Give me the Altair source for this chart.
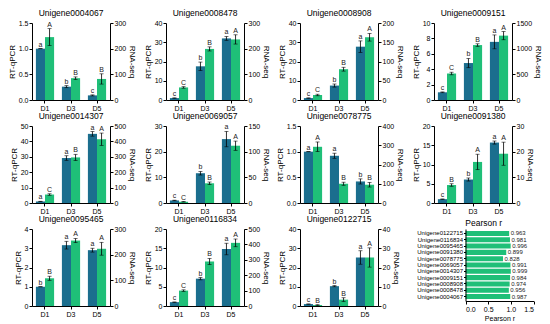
import altair as alt
import pandas as pd

BLUE = "#1b6e8e"
GREEN = "#1fbf78"
FONT = "Liberation Sans"

days = ["D1", "D3", "D5"]
genes = ["Unigene0004067", "Unigene0008478", "Unigene0008908", "Unigene0009151",
         "Unigene0014307", "Unigene0069057", "Unigene0078775", "Unigene0091380",
         "Unigene0095465", "Unigene0116834", "Unigene0122715"]

qpcr_mean = [
    [1.0, 0.26, 0.09],
    [1.0, 17.5, 32.0],
    [1.0, 7.5, 27.7],
    [1.0, 4.8, 7.55],
    [1.0, 29.2, 44.9],
    [1.0, 11.6, 24.9],
    [1.0, 0.92, 0.42],
    [1.0, 6.1, 15.7],
    [1.0, 3.16, 2.9],
    [1.0, 7.1, 14.8],
    [1.0, 10.3, 25.2],
]
qpcr_err = [
    [0.0, 0.02, 0.01],
    [0.1, 2.2, 1.0],
    [0.1, 0.8, 3.0],
    [0.05, 0.6, 0.9],
    [0.1, 1.5, 1.5],
    [0.1, 0.7, 3.0],
    [0.0, 0.05, 0.05],
    [0.05, 0.4, 0.4],
    [0.0, 0.2, 0.1],
    [0.05, 0.3, 1.5],
    [0.05, 0.3, 3.5],
]
rna_mean = [
    [245, 85, 82],
    [49, 199, 236],
    [13, 80, 163],
    [516, 1070, 1254],
    [55, 296, 414],
    [2.4, 38.4, 111.6],
    [292, 100, 95],
    [7.0, 16.0, 19.2],
    [108, 255, 223],
    [100, 289, 410],
    [0.5, 3.3, 25.2],
]
rna_err = [
    [33, 5, 20],
    [3, 8, 18],
    [2, 5, 10],
    [25, 25, 80],
    [5, 20, 40],
    [0.5, 2.5, 9],
    [25, 8, 12],
    [0.5, 3, 4.5],
    [8, 8, 25],
    [5, 20, 25],
    [0.2, 1, 5],
]
qpcr_letters = [["a", "b", "c"], ["c", "b", "a"], ["c", "b", "a"], ["c", "b", "a"],
                ["a", "a", "a"], ["c", "b", "a"], ["a", "a", "b"], ["c", "b", "a"],
                ["b", "a", "a"], ["c", "b", "a"], ["c", "b", "a"]]
rna_letters = [["A", "B", "B"], ["C", "B", "A"], ["C", "B", "A"], ["C", "B", "A"],
               ["C", "B", "A"], ["C", "B", "A"], ["A", "B", "B"], ["B", "A", "A"],
               ["B", "A", "A"], ["C", "B", "A"], ["B", "B", "A"]]
left_ticks = [[0, 0.5, 1, 1.5], [0, 10, 20, 30, 40], [0, 10, 20, 30, 40], [0, 2, 4, 6, 8, 10],
              [0, 10, 20, 30, 40, 50], [0, 10, 20, 30], [0, 0.5, 1, 1.5], [0, 5, 10, 15, 20],
              [0, 1, 2, 3, 4], [0, 5, 10, 15, 20], [0, 10, 20, 30, 40]]
right_ticks = [[0, 100, 200, 300], [0, 100, 200, 300], [0, 50, 100, 150, 200], [0, 500, 1000, 1500],
               [0, 100, 200, 300, 400, 500], [0, 50, 100, 150], [0, 100, 200, 300, 400], [0, 10, 20, 30],
               [0, 100, 200, 300], [0, 100, 200, 300, 400, 500], [0, 10, 20, 30, 40]]

pearson_genes = ["Unigene0122715", "Unigene0116834", "Unigene0095465", "Unigene0091380",
                 "Unigene0078775", "Unigene0069057", "Unigene0014307", "Unigene0009151",
                 "Unigene0008908", "Unigene0008478", "Unigene0004067"]
pearson_r = [0.963, 0.981, 0.996, 0.899, 0.828, 0.991, 0.999, 0.984, 0.974, 0.956, 0.987]

W, H = 78, 77
COLSP, ROWSP = 56, 26

AX = dict(domain=True, ticks=True, domainColor="black", tickColor="black",
          domainWidth=1, tickWidth=1, tickSize=3, labelColor="black", titleColor="black",
          labelFont=FONT, titleFont=FONT, labelFontSize=7, titleFontSize=8,
          titleFontWeight="normal", labelPadding=1, titlePadding=2, grid=False, zindex=1)

x_enc = alt.X("day:N", sort=days,
              scale=alt.Scale(paddingInner=0.3, paddingOuter=0.15),
              axis=alt.Axis(title=None, labelAngle=0, **AX))
xo = alt.XOffset("s:N", scale=alt.Scale(domain=["q", "r"], paddingInner=0, paddingOuter=0))


def side(df, ticks, title, orient, color):
    fmt = ".1f" if any(t != int(t) for t in ticks) else "d"
    ys = alt.Scale(domain=[0, ticks[-1]], nice=False)
    yax = alt.Axis(values=ticks, format=fmt, title=title, orient=orient, **AX)
    base = alt.Chart(df)
    bar = base.mark_bar(color=color).encode(
        x=x_enc, xOffset=xo, y=alt.Y("mean:Q", scale=ys, axis=yax, title=title))
    rule = base.mark_rule(color="black", strokeWidth=0.8).encode(
        x=x_enc, xOffset=xo, y=alt.Y("lo:Q", scale=ys, axis=yax, title=title), y2="hi:Q")
    cap_hi = base.mark_tick(color="black", thickness=0.8, size=4).encode(
        x=x_enc, xOffset=xo, y=alt.Y("hi:Q", scale=ys, axis=yax, title=title))
    cap_lo = base.mark_tick(color="black", thickness=0.8, size=4).encode(
        x=x_enc, xOffset=xo, y=alt.Y("lo:Q", scale=ys, axis=yax, title=title))
    txt = base.mark_text(fontSize=7, font=FONT, baseline="bottom", dy=-1, color="#222").encode(
        x=x_enc, xOffset=xo, y=alt.Y("hi:Q", scale=ys, axis=yax, title=title), text="letter:N")
    return alt.layer(bar, rule, cap_hi, cap_lo, txt)


def panel(i):
    qm, qe = qpcr_mean[i], qpcr_err[i]
    rm, re_ = rna_mean[i], rna_err[i]
    dfq = pd.DataFrame({"day": days, "s": "q", "mean": qm,
                        "lo": [m - e for m, e in zip(qm, qe)],
                        "hi": [m + e for m, e in zip(qm, qe)],
                        "letter": qpcr_letters[i]})
    dfr = pd.DataFrame({"day": days, "s": "r", "mean": rm,
                        "lo": [m - e for m, e in zip(rm, re_)],
                        "hi": [m + e for m, e in zip(rm, re_)],
                        "letter": rna_letters[i]})
    left = side(dfq, left_ticks[i], "RT-qPCR", "left", BLUE)
    right = side(dfr, right_ticks[i], "RNA-seq", "right", GREEN)
    return alt.layer(left, right).resolve_scale(y="independent").properties(
        width=W, height=H,
        title=alt.TitleParams(genes[i], anchor="middle", font=FONT, fontSize=8.5,
                              fontWeight="normal", offset=2, color="black"))


panels = [panel(i) for i in range(len(genes))]

# Pearson panel
PX0 = 31.5
PW = 99.5
pdf = pd.DataFrame({"gene": pearson_genes, "r": pearson_r})
pax_y = dict(AX)
pax_y.update(labelFontSize=6, tickSize=2)
py = alt.Y("gene:N", sort=pearson_genes,
           scale=alt.Scale(paddingInner=0.2, paddingOuter=0.3),
           axis=alt.Axis(title=None, offset=-PX0, **pax_y))
pax_x = dict(AX)
pax_x.update(titleFontSize=7)
px = alt.X("r:Q", scale=alt.Scale(domain=[0, 1.5], range=[PX0, PW], nice=False),
           axis=alt.Axis(values=[0, 0.5, 1, 1.5], format=".1f", title="Pearson r", **pax_x))
pbar = alt.Chart(pdf).mark_bar(color=GREEN).encode(y=py, x=px)
ptxt = alt.Chart(pdf).mark_text(align="left", dx=1.5, fontSize=6, font=FONT, color="#222").encode(
    y=py, x=px, text=alt.Text("r:Q", format=".3f"))
pear = alt.layer(pbar, ptxt).properties(
    width=PW, height=72,
    title=alt.TitleParams("Pearson r", anchor="middle", font=FONT, fontSize=8.5,
                          fontWeight="normal", offset=2, color="black"))

panels.append(pear)

chart = alt.concat(*panels, columns=4, spacing={"row": ROWSP, "column": COLSP},
                   bounds="flush", align="each").properties(
    padding={"top": 0, "left": 0, "right": 0, "bottom": 0}, background="white")

chart = chart.configure_view(stroke=None)

chart.save("out.html", embed_options={"renderer": "svg", "actions": False})
